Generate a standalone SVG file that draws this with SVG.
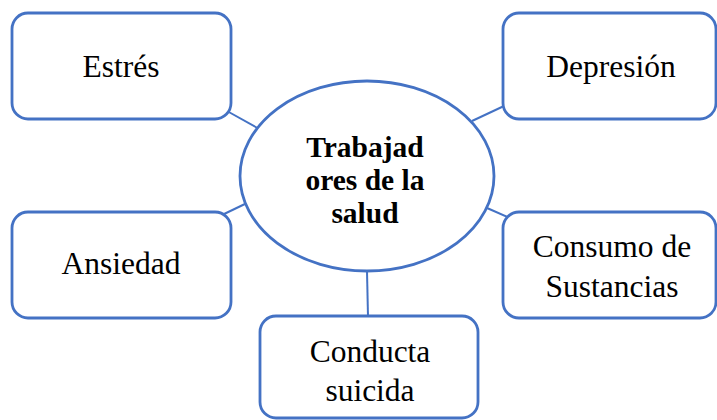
<svg xmlns="http://www.w3.org/2000/svg" width="717" height="420" viewBox="0 0 717 420">
<style>
.box{fill:#fff;stroke:#4472C4;stroke-width:2.8}
.ln{stroke:#4472C4;stroke-width:2;fill:none}
.t{font-family:"Liberation Serif","Times New Roman",serif;font-size:31.5px;fill:#000;text-anchor:middle}
.b{font-family:"Liberation Serif","Times New Roman",serif;font-size:29.5px;font-weight:bold;fill:#000;text-anchor:middle}
</style>
<rect width="717" height="420" fill="#fff"/>
<g id="connectors">
<line class="ln" x1="227" y1="111" x2="261" y2="130"/>
<line class="ln" x1="472" y1="121" x2="504" y2="106"/>
<line class="ln" x1="222" y1="215" x2="247" y2="203"/>
<line class="ln" x1="487" y1="208" x2="510" y2="218"/>
<line class="ln" x1="367" y1="271" x2="368" y2="317"/>
</g>
<g id="estres">
<rect class="box" x="12" y="13" width="219" height="106" rx="16"/>
<text class="t" x="121" y="77">Estrés</text>
</g>
<g id="depresion">
<rect class="box" x="503" y="13" width="213" height="106" rx="16"/>
<text class="t" x="611" y="77">Depresión</text>
</g>
<g id="ansiedad">
<rect class="box" x="12" y="212" width="219" height="106" rx="16"/>
<text class="t" x="121" y="274">Ansiedad</text>
</g>
<g id="consumo">
<rect class="box" x="503" y="212" width="213" height="106" rx="16"/>
<text class="t" x="612" y="257">Consumo de</text>
<text class="t" x="612" y="297">Sustancias</text>
</g>
<g id="conducta">
<rect class="box" x="260" y="316" width="218" height="102" rx="16"/>
<text class="t" x="370" y="362">Conducta</text>
<text class="t" x="370" y="401">suicida</text>
</g>
<g id="centro">
<ellipse class="box" cx="367" cy="176" rx="127" ry="95"/>
<text class="b" x="365" y="157">Trabajad</text>
<text class="b" x="365" y="190">ores de la</text>
<text class="b" x="365" y="223">salud</text>
</g>
</svg>
